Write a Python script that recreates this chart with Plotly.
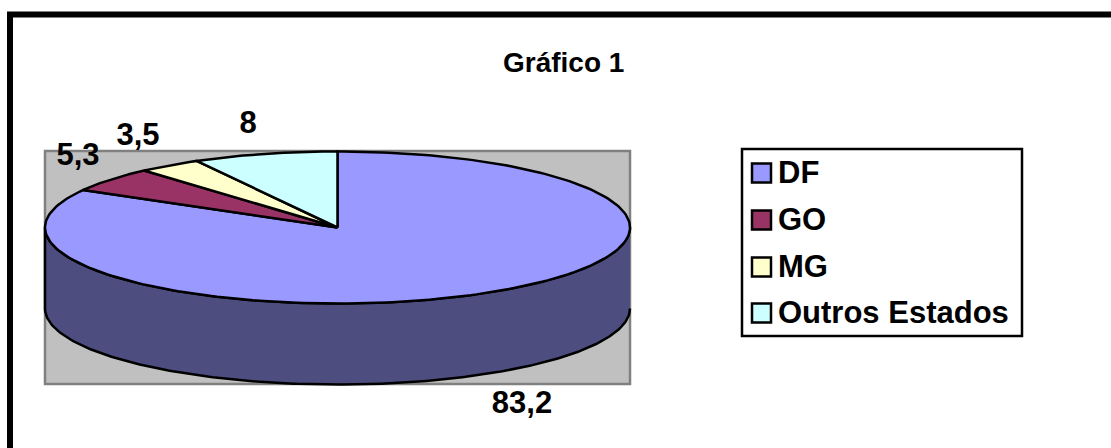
import numpy as np
import plotly.graph_objects as go

# Shares per state of origin, in percent
categories = ["DF", "GO", "MG", "Outros Estados"]
values = [83.2, 5.3, 3.5, 8.0]
value_labels = ["83,2", "5,3", "3,5", "8"]
slice_colors = ["#9999FF", "#993366", "#FFFFCC", "#CCFFFF"]
side_color = "#4D4D7F"
title_text = "Gráfico 1"

# Projected pie: tilted ellipse plus a cylinder wall, in page pixels
CX, CY, RX, RY, DEPTH = 337.5, 227.5, 292.5, 76.0, 81.0
FONT = "Liberation Sans, Arial, sans-serif"
TEXT_SIZE = 31
OUTLINE = 2.5


def rim(start_pct, end_pct, steps=240):
    """Ellipse rim from start_pct to end_pct, clockwise from 12 o'clock."""
    a = np.radians(np.linspace(start_pct, end_pct, steps) * 3.6)
    return CX + RX * np.sin(a), CY - RY * np.cos(a)


fig = go.Figure()

# Wall of the cylinder, visible along the front half of the rim
wx, wy = rim(25, 75)
fig.add_trace(go.Scatter(
    x=np.r_[wx, wx[::-1]], y=np.r_[wy + DEPTH, wy[::-1]],
    mode="lines", fill="toself", fillcolor=side_color,
    line=dict(color="black", width=OUTLINE), showlegend=False, hoverinfo="skip",
))

# Top face, one filled wedge per category
bounds = np.r_[0, np.cumsum(values)]
for i, name in enumerate(categories):
    x, y = rim(bounds[i], bounds[i + 1])
    fig.add_trace(go.Scatter(
        x=np.r_[CX, x, CX], y=np.r_[CY, y, CY],
        mode="lines", fill="toself", fillcolor=slice_colors[i],
        line=dict(color="black", width=OUTLINE), showlegend=False, name=name,
        hoverinfo="name",
    ))

# Value labels beside their wedges
label_x = [522, 78, 138, 248]
label_y = [405, 157, 137, 125]
fig.add_trace(go.Scatter(
    x=label_x, y=label_y, mode="text", text=value_labels,
    textfont=dict(family=FONT, size=TEXT_SIZE, color="black", weight="bold"),
    showlegend=False, hoverinfo="skip",
))

# Legend keys and names inside a framed box
key_x = 761.5
name_x = 778
key_y = [173, 220, 267, 313]
name_y = [175, 222, 269, 315]
for i, name in enumerate(categories):
    fig.add_trace(go.Scatter(
        x=[key_x], y=[key_y[i]], mode="markers",
        marker=dict(symbol="square", size=19, color=slice_colors[i],
                    line=dict(color="black", width=2.5)),
        showlegend=False, hoverinfo="skip",
    ))
fig.add_trace(go.Scatter(
    x=[name_x] * len(categories), y=name_y, mode="text", text=categories,
    textposition="middle right",
    textfont=dict(family=FONT, size=TEXT_SIZE, color="black", weight="bold"),
    showlegend=False, hoverinfo="skip",
))

fig.update_layout(
    width=1111, height=448, autosize=False,
    margin=dict(l=0, r=0, t=0, b=0),
    paper_bgcolor="white", plot_bgcolor="white", showlegend=False,
    xaxis=dict(range=[0, 1111], visible=False, fixedrange=True),
    yaxis=dict(range=[448, 0], visible=False, fixedrange=True),
    annotations=[dict(
        x=563.5, y=62, xref="x", yref="y", text=title_text, showarrow=False,
        font=dict(family=FONT, size=28, color="black", weight="bold"),
    )],
    shapes=[
        # Plot area behind the pie
        dict(type="rect", layer="below", x0=45, x1=630, y0=151, y1=384,
             fillcolor="#C0C0C0", line=dict(color="#808080", width=2.5)),
        # Legend frame
        dict(type="rect", layer="below", x0=742, x1=1022, y0=149, y1=336,
             fillcolor="white", line=dict(color="black", width=2.5)),
        # Page frame: top and left rules
        dict(type="line", layer="below", x0=7, x1=1111, y0=14.5, y1=14.5,
             line=dict(color="black", width=6)),
        dict(type="line", layer="below", x0=10, x1=10, y0=12, y1=448,
             line=dict(color="black", width=6)),
    ],
)

fig.write_html("out.html")
